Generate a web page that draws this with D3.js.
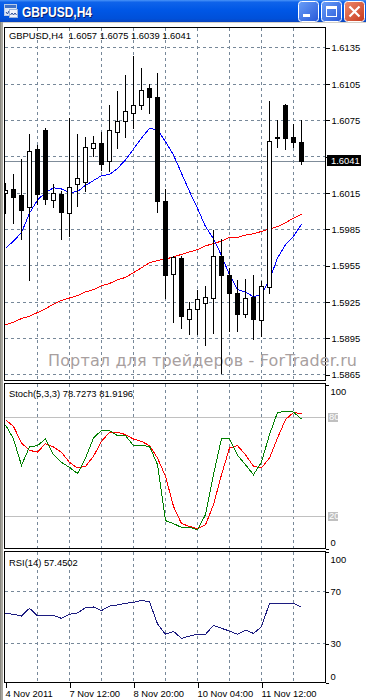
<!DOCTYPE html>
<html><head><meta charset="utf-8">
<script src="https://cdn.jsdelivr.net/npm/d3@7/dist/d3.min.js"></script>
<style>
html,body{margin:0;padding:0;background:#fff;}
svg{display:block;}
</style></head><body>
<svg id="c" width="366" height="700"></svg>
<script>
// ---------- data ----------
const windowTitle = "GBPUSD,H4";
const chartTitle = "GBPUSD,H4  1.6057 1.6075 1.6039 1.6041";
const opens  = [1.6015,1.6018,1.6013,1.6003,1.6051,1.6067,1.6009,1.6014,1.5998,1.6022,1.6024,1.6052,1.6056,1.6041,1.6065,1.6074,1.6081,1.6087,1.6101,1.6094,1.6008,1.5948,1.5961,1.5911,1.5919,1.5924,1.5928,1.5963,1.5947,1.5932,1.5915,1.5929,1.5910,1.5937,1.6061,1.6087,1.6061,1.6057];
const highs  = [1.6023,1.6030,1.6043,1.6063,1.6054,1.6068,1.6022,1.6016,1.6077,1.6063,1.6061,1.6062,1.6065,1.6087,1.6099,1.6112,1.6128,1.6118,1.6105,1.6114,1.6018,1.5963,1.5963,1.5925,1.5935,1.5938,1.5984,1.5977,1.5953,1.5943,1.5944,1.5947,1.5942,1.6091,1.6075,1.6088,1.6072,1.6075];
const lows   = [1.5998,1.5990,1.5977,1.5943,1.6006,1.6006,1.6003,1.5977,1.5979,1.6004,1.6016,1.6045,1.6034,1.6033,1.6052,1.6061,1.6068,1.6084,1.6081,1.5999,1.5928,1.5908,1.5903,1.5898,1.5898,1.5889,1.5899,1.5866,1.5901,1.5901,1.5912,1.5894,1.5897,1.5932,1.6053,1.6051,1.6053,1.6039];
const closes = [1.6017,1.6011,1.6001,1.6049,1.6014,1.6010,1.6015,1.5999,1.6020,1.6027,1.6053,1.6056,1.6039,1.6067,1.6074,1.6082,1.6087,1.6100,1.6094,1.6008,1.5947,1.5962,1.5913,1.5919,1.5927,1.5929,1.5963,1.5947,1.5932,1.5915,1.5928,1.5911,1.5938,1.6058,1.6060,1.6060,1.6057,1.6041];
const maFast = [1.5969,1.5975,1.5982,1.5998,1.6009,1.6015,1.6019,1.6018,1.6015,1.6016,1.6021,1.6025,1.6029,1.6030,1.6035,1.6042,1.6051,1.6060,1.6068,1.6067,1.6057,1.6046,1.6031,1.6016,1.6002,1.5987,1.5977,1.5963,1.5947,1.5935,1.5933,1.5929,1.5931,1.5943,1.5961,1.5972,1.5979,1.5989];
const maSlow = [1.5906,1.5908,1.5911,1.5913,1.5916,1.5919,1.5923,1.5926,1.5928,1.5930,1.5933,1.5935,1.5938,1.5940,1.5943,1.5945,1.5949,1.5953,1.5957,1.5959,1.5960,1.5962,1.5964,1.5966,1.5968,1.5971,1.5973,1.5975,1.5978,1.5978,1.5980,1.5981,1.5983,1.5985,1.5987,1.5990,1.5994,1.5997];
const stochMain   = [75.3,66.6,50.6,61.8,62.6,66.6,57.1,52.4,49.4,45.6,55.1,67.2,71.9,71.7,68.7,68.7,62.6,62.6,62.2,51.0,17.0,15.2,12.9,12.9,11.5,20.6,44.9,66.8,66.8,56.7,51.0,44.9,52.6,69.3,82.8,83.4,83.0,78.7273];
const stochSignal = [78.4,74.3,64.2,59.7,58.7,63.8,61.8,58.5,52.4,49.0,50.0,56.1,65.2,70.7,70.7,69.3,66.6,65.2,62.6,55.1,43.9,25.7,15.2,13.5,12.1,14.5,26.7,44.9,61.2,62.6,57.1,50.0,49.0,55.1,67.2,78.4,82.8,81.9196];
const rsiValues   = [52.9,52.2,50.9,56.8,51.1,50.9,51.4,49.1,52.2,53.2,57.3,57.8,55.0,58.5,59.3,60.6,61.3,62.9,61.8,44.8,36.9,39.2,33.8,35.6,36.9,36.9,43.8,41.5,39.4,36.9,40.1,37.6,42.7,60.6,60.6,60.6,60.6,57.4502];
const stochLabel = "Stoch(5,3,3) 78.7273 81.9196";
const rsiLabel = "RSI(14) 57.4502";
const priceTicks = [1.6135,1.6105,1.6075,1.6045,1.6015,1.5985,1.5955,1.5925,1.5895,1.5865];
const lastPrice = 1.6041;
const gridIndex = [4,8,12,16,20,24,28,32,36];
const timeTickIndex = [0,8,16,24,32];
const timeTickLabels = ["4 Nov 2011","7 Nov 12:00","8 Nov 20:00","10 Nov 04:00","11 Nov 12:00"];
const stochLevels = [80,20];
const stochAxisTicks = [100,0];
const rsiGridLevels = [70,30];
const rsiAxisTicks = [100,70,30,0];
const watermark = "Портал для трейдеров - ForTrader.ru";

// ---------- layout ----------
const svg = d3.select("#c");
const FONT = "'Liberation Sans', Arial, sans-serif";
const FS = 9.4;
const LEFT = 4, RIGHT = 325;
const P = {main:[27,380], stoch:[383,548], rsi:[551,682]};
const n = opens.length;
const x = d3.scaleLinear().domain([0, n-1]).range([5, 5 + 8*(n-1)]);
const yP = d3.scaleLinear().domain([1.5865, 1.6135]).range([374.3, 47.3]);
const yS = d3.scaleLinear().domain([0,100]).range([548.6, 384.1]);
const yR = d3.scaleLinear().domain([0,100]).range([682.6, 551.75]);
const cx = i => Math.round(x(i)) + 0.5;
const cy = (s,v) => Math.round(s(v)) + 0.5;

const defs = svg.append("defs");
Object.entries(P).forEach(([k,[t,b]]) => {
  defs.append("clipPath").attr("id","clip-"+k).append("rect")
    .attr("x", LEFT+1).attr("y", t+1).attr("width", RIGHT-LEFT-1).attr("height", b-t-1);
});

// ---------- window chrome ----------
const tg = defs.append("linearGradient").attr("id","tbar").attr("x1",0).attr("y1",0).attr("x2",0).attr("y2",1);
[[0,"#4a94f8"],[0.1,"#0f63ea"],[0.45,"#0057e6"],[0.85,"#0050d9"],[1,"#0a45c0"]].forEach(([o,c])=>tg.append("stop").attr("offset",o).attr("stop-color",c));
const bg = defs.append("linearGradient").attr("id","btnb").attr("x1",0).attr("y1",0).attr("x2",1).attr("y2",1);
[[0,"#6a9ff8"],[1,"#2758d8"]].forEach(([o,c])=>bg.append("stop").attr("offset",o).attr("stop-color",c));
const rg = defs.append("linearGradient").attr("id","btnr").attr("x1",0).attr("y1",0).attr("x2",1).attr("y2",1);
[[0,"#ee8a6c"],[1,"#c63a1e"]].forEach(([o,c])=>rg.append("stop").attr("offset",o).attr("stop-color",c));

svg.append("rect").attr("x",0).attr("y",0).attr("width",366).attr("height",700).attr("fill","#fff");
svg.append("rect").attr("x",0).attr("y",0).attr("width",366).attr("height",22).attr("fill","url(#tbar)");
svg.append("rect").attr("x",0).attr("y",22).attr("width",366).attr("height",1).attr("fill","#d4d0c8");
svg.append("rect").attr("x",0).attr("y",22).attr("width",3).attr("height",678).attr("fill","#a8a69e");
svg.append("rect").attr("x",0).attr("y",22).attr("width",1).attr("height",678).attr("fill","#8a8880");

// icon
const ic = svg.append("g");
ic.append("rect").attr("x",4.5).attr("y",4.5).attr("width",12).attr("height",11).attr("fill","#dfe9f8").attr("stroke","#b8cbe8");
ic.append("rect").attr("x",5).attr("y",5).attr("width",11).attr("height",3).attr("fill","#3f72c8");
ic.append("path").attr("d","M6,12 l1.5,2 l1.5,-3 l1.5,3 l1.5,-3 l1.5,2").attr("fill","none").attr("stroke","#2b4f9a").attr("stroke-width",1);
ic.append("rect").attr("x",9.5).attr("y",9.5).attr("width",8).attr("height",8).attr("fill","#eef3fb").attr("stroke","#9bb3da");
ic.append("path").attr("d","M10.5,15 l1.5,-2 l1.5,2 l1.5,-2 l1.5,2").attr("fill","none").attr("stroke","#2b4f9a");

// title text
svg.append("text").attr("x",23).attr("y",17.5).attr("font-family",FONT).attr("font-weight","bold")
  .attr("font-size",14.5).attr("fill","#0a1e6a").attr("textLength",70).attr("lengthAdjust","spacingAndGlyphs").text(windowTitle);
svg.append("text").attr("x",22).attr("y",16.5).attr("font-family",FONT).attr("font-weight","bold")
  .attr("font-size",14.5).attr("fill","#fff").attr("textLength",70).attr("lengthAdjust","spacingAndGlyphs").text(windowTitle);

// buttons
const btn = (bx, fill) => svg.append("rect").attr("x",bx+0.5).attr("y",1.5).attr("width",20).attr("height",20).attr("rx",3)
  .attr("fill",fill).attr("stroke","#fff").attr("stroke-width",1);
btn(298,"url(#btnb)");
svg.append("rect").attr("x",303).attr("y",14).attr("width",7).attr("height",3).attr("fill","#fff");
btn(321,"url(#btnb)");
svg.append("rect").attr("x",326.5).attr("y",6.5).attr("width",10).attr("height",10).attr("fill","none").attr("stroke","#fff");
svg.append("rect").attr("x",326).attr("y",6).attr("width",11).attr("height",3).attr("fill","#fff");
btn(344,"url(#btnr)");
svg.append("path").attr("d","M349.5,6.5 L359.5,16.5 M359.5,6.5 L349.5,16.5").attr("stroke","#fff").attr("stroke-width",2.2);

// ---------- panels frame & grid ----------
const gridColor = "#778899";
const chart = svg.append("g").attr("shape-rendering","crispEdges");

Object.entries(P).forEach(([k,[t,b]]) => {
  chart.append("g").selectAll("line").data(gridIndex).join("line")
    .attr("x1", d=>cx(d)).attr("x2", d=>cx(d)).attr("y1", t+1).attr("y2", b)
    .attr("stroke", gridColor).attr("stroke-dasharray","3,3");
});
chart.append("g").selectAll("line").data(priceTicks).join("line")
  .attr("x1", LEFT+1).attr("x2", RIGHT).attr("y1", d=>cy(yP,d)).attr("y2", d=>cy(yP,d))
  .attr("stroke", gridColor).attr("stroke-dasharray","3,3");
chart.append("g").selectAll("line").data(rsiGridLevels).join("line")
  .attr("x1", LEFT+1).attr("x2", RIGHT).attr("y1", d=>cy(yR,d)).attr("y2", d=>cy(yR,d))
  .attr("stroke", gridColor).attr("stroke-dasharray","3,3");
chart.append("g").selectAll("line").data(stochLevels).join("line")
  .attr("x1", LEFT+1).attr("x2", RIGHT).attr("y1", d=>cy(yS,d)).attr("y2", d=>cy(yS,d))
  .attr("stroke", "#c0c0c0");

// watermark
svg.append("text").attr("x",48).attr("y",366).attr("font-family","'DejaVu Sans', Verdana, sans-serif")
  .attr("font-size",16).attr("fill","#a89f9f").attr("textLength",309).attr("lengthAdjust","spacing").text(watermark);

// current price line
chart.append("line").attr("x1",LEFT+1).attr("x2",RIGHT+1).attr("y1",cy(yP,lastPrice)).attr("y2",cy(yP,lastPrice))
  .attr("stroke","#7f8c99");

// ---------- moving averages ----------
const main = svg.append("g").attr("clip-path","url(#clip-main)").attr("shape-rendering","crispEdges");
const lineP = arr => d3.line().x((d,i)=>x(i)+0.5).y(d=>yP(d))(arr);
main.append("path").attr("d", lineP(maSlow)).attr("fill","none").attr("stroke","#ff0000");
main.append("path").attr("d", lineP(maFast)).attr("fill","none").attr("stroke","#0000ff");

// ---------- candles ----------
const idx = d3.range(n);
const cg = main.append("g");
cg.selectAll("line.w").data(idx).join("line").attr("class","w")
  .attr("x1", i=>cx(i)).attr("x2", i=>cx(i))
  .attr("y1", i=>Math.round(yP(highs[i]))).attr("y2", i=>Math.round(yP(lows[i]))+1)
  .attr("stroke","#000");
cg.selectAll("rect.b").data(idx).join("rect").attr("class","b")
  .each(function(i){
    const up = closes[i] >= opens[i];
    const yo = Math.round(yP(opens[i])), yc = Math.round(yP(closes[i]));
    const xl = Math.round(x(i)) - 2;
    const s = d3.select(this);
    if (up) {
      s.attr("x", xl+0.5).attr("width",4).attr("y", yc+0.5).attr("height", Math.max(1, yo-yc))
       .attr("fill","#fff").attr("stroke","#000");
    } else {
      s.attr("x", xl).attr("width",5).attr("y", yo).attr("height", Math.max(2, yc-yo+1))
       .attr("fill","#000");
    }
  });

// ---------- stochastic ----------
const sg = svg.append("g").attr("clip-path","url(#clip-stoch)").attr("shape-rendering","crispEdges");
const lineS = arr => d3.line().x((d,i)=>x(i)+0.5).y(d=>yS(d))(arr);
sg.append("path").attr("d", lineS(stochSignal)).attr("fill","none").attr("stroke","#ff0000");
sg.append("path").attr("d", lineS(stochMain)).attr("fill","none").attr("stroke","#008000");

// ---------- RSI ----------
const rg2 = svg.append("g").attr("clip-path","url(#clip-rsi)").attr("shape-rendering","crispEdges");
rg2.append("path").attr("d", d3.line().x((d,i)=>x(i)+0.5).y(d=>yR(d))(rsiValues))
  .attr("fill","none").attr("stroke","#1c1c80");

// panel borders
Object.values(P).forEach(([t,b]) => {
  chart.append("rect").attr("x",LEFT+0.5).attr("y",t+0.5).attr("width",RIGHT-LEFT).attr("height",b-t)
    .attr("fill","none").attr("stroke","#000");
});

// ---------- axes ----------
function styleAxis(g){
  g.select(".domain").remove();
  g.selectAll("line").attr("stroke","#000").attr("shape-rendering","crispEdges");
  g.selectAll("text").attr("fill","#000").attr("font-family",FONT).attr("font-size",FS);
}
// the 1.6045 label sits under the last-price box, as in the terminal
const fmt4 = d3.format(".4f");
const ax = svg.append("g").attr("transform",`translate(${RIGHT+0.5},0.5)`)
  .call(d3.axisRight(yP).tickValues(priceTicks)
    .tickFormat(d => Math.abs(yP(d) - yP(lastPrice)) < 10 ? "" : fmt4(d)).tickSize(4).tickPadding(2));
styleAxis(ax);

// last price box
const lpY = Math.round(yP(lastPrice));
svg.append("rect").attr("x",327).attr("y",lpY-6).attr("width",34).attr("height",11).attr("fill","#000");
svg.append("text").attr("x",331).attr("y",lpY).attr("dy","0.34em").attr("font-family",FONT).attr("font-size",FS)
  .attr("fill","#fff").text(fmt4(lastPrice));

// stoch axis
const axS = svg.append("g").attr("transform",`translate(${RIGHT+0.5},0.5)`)
  .call(d3.axisRight(yS).tickValues(stochAxisTicks).tickSize(3).tickPadding(2));
styleAxis(axS);
axS.selectAll(".tick text").attr("dy", d => d===100 ? "1.05em" : "-0.35em");
const lvl = svg.append("g").selectAll("g").data(stochLevels).join("g");
lvl.append("rect").attr("x",328).attr("y",d=>Math.round(yS(d))-4).attr("width",10).attr("height",9).attr("fill","#c0c0c0");
lvl.append("text").attr("x",329).attr("y",d=>Math.round(yS(d))).attr("dy","0.36em").attr("font-family",FONT)
  .attr("font-size",FS).attr("fill","#fff").text(d=>d);

// rsi axis
const axR = svg.append("g").attr("transform",`translate(${RIGHT+0.5},0.5)`)
  .call(d3.axisRight(yR).tickValues(rsiAxisTicks).tickSize(3).tickPadding(2));
styleAxis(axR);
axR.selectAll(".tick text").attr("dy", d => d===100 ? "1.05em" : d===0 ? "-0.35em" : "0.32em");

// time axis
const axT = svg.append("g").attr("transform",`translate(0.5,${P.rsi[1]+0.5})`)
  .call(d3.axisBottom(x).tickValues(timeTickIndex).tickFormat((d,i)=>timeTickLabels[i]).tickSize(5).tickPadding(1));
styleAxis(axT);
axT.selectAll(".tick text").attr("text-anchor","start").attr("x",-0.5).attr("dy","0.95em");

// panel labels
svg.append("text").attr("x",9).attr("y",39).attr("font-family",FONT).attr("font-size",FS).attr("fill","#000")
  .attr("xml:space","preserve").text(chartTitle);
svg.append("text").attr("x",9).attr("y",397).attr("font-family",FONT).attr("font-size",FS).attr("fill","#000").text(stochLabel);
svg.append("text").attr("x",9).attr("y",565.5).attr("font-family",FONT).attr("font-size",FS).attr("fill","#000").text(rsiLabel);
</script>
</body></html>
